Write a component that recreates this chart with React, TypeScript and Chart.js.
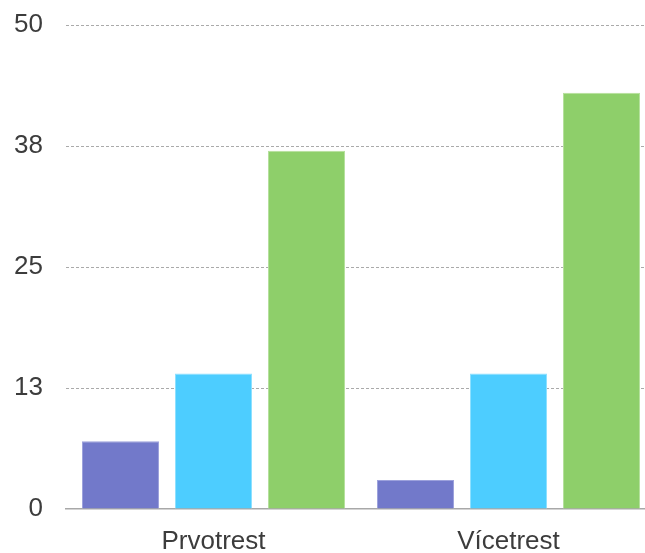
import React, { useEffect, useRef } from "react";
import { Chart, registerables } from "chart.js";

Chart.register(...registerables);

const categories = ["Prvotrest", "Vícetrest"];
const seriesA = [7, 3];
const seriesB = [14, 14];
const seriesC = [37, 43];
const yTickValues = [0, 12.5, 25, 37.5, 50];

export default function App() {
  const ref = useRef<HTMLCanvasElement | null>(null);

  useEffect(() => {
    if (!ref.current) return;
    const font = { family: "'Liberation Sans', Arial, sans-serif", size: 26 };
    const chart = new Chart(ref.current, {
      type: "bar",
      data: {
        labels: categories,
        datasets: [
          { label: "A", data: seriesA, backgroundColor: "#7279CA", borderColor: "#9ca1dc", borderWidth: 1 },
          { label: "B", data: seriesB, backgroundColor: "#4DCDFF", borderColor: "#8fe0ff", borderWidth: 1 },
          { label: "C", data: seriesC, backgroundColor: "#8ECF6A", borderColor: "#b5e09c", borderWidth: 1 },
        ],
      },
      options: {
        animation: false,
        responsive: true,
        maintainAspectRatio: false,
        layout: { padding: { left: 14, top: 25, right: 0, bottom: 0 } },
        plugins: { legend: { display: false }, tooltip: { enabled: false } },
        datasets: { bar: { categoryPercentage: 0.946, barPercentage: 0.828 } },
        scales: {
          x: {
            grid: { display: false, drawTicks: false },
            border: { display: true, color: "#a8a8a8", width: 1.5 },
            ticks: { color: "#3c3c3c", font, padding: 17 },
            afterFit: (s: any) => {
              s.paddingLeft = 0;
              s.paddingRight = 0;
              s.height = 44;
            },
          },
          y: {
            min: 0,
            max: 50,
            z: 1,
            afterBuildTicks: (axis: any) => {
              axis.ticks = yTickValues.map((v) => ({ value: v }));
            },
            afterFit: (s: any) => {
              s.paddingTop = 0;
              s.paddingBottom = 0;
              s.width = 52;
            },
            grid: {
              drawTicks: false,
              color: (ctx: any) => (ctx.tick && ctx.tick.value === 0 ? "rgba(0,0,0,0)" : "#aaaaaa"),
              lineWidth: 1,
            },
            border: { display: false, dash: [3, 2] },
            ticks: {
              color: "#3c3c3c",
              font,
              padding: 23,
              callback: (v: any) => String(Math.round(Number(v))),
            },
          },
        },
      },
    });
    return () => chart.destroy();
  }, []);

  return (
    <div style={{ position: "fixed", left: 0, top: 0, width: 656, height: 553 }}>
      <canvas ref={ref} />
    </div>
  );
}
